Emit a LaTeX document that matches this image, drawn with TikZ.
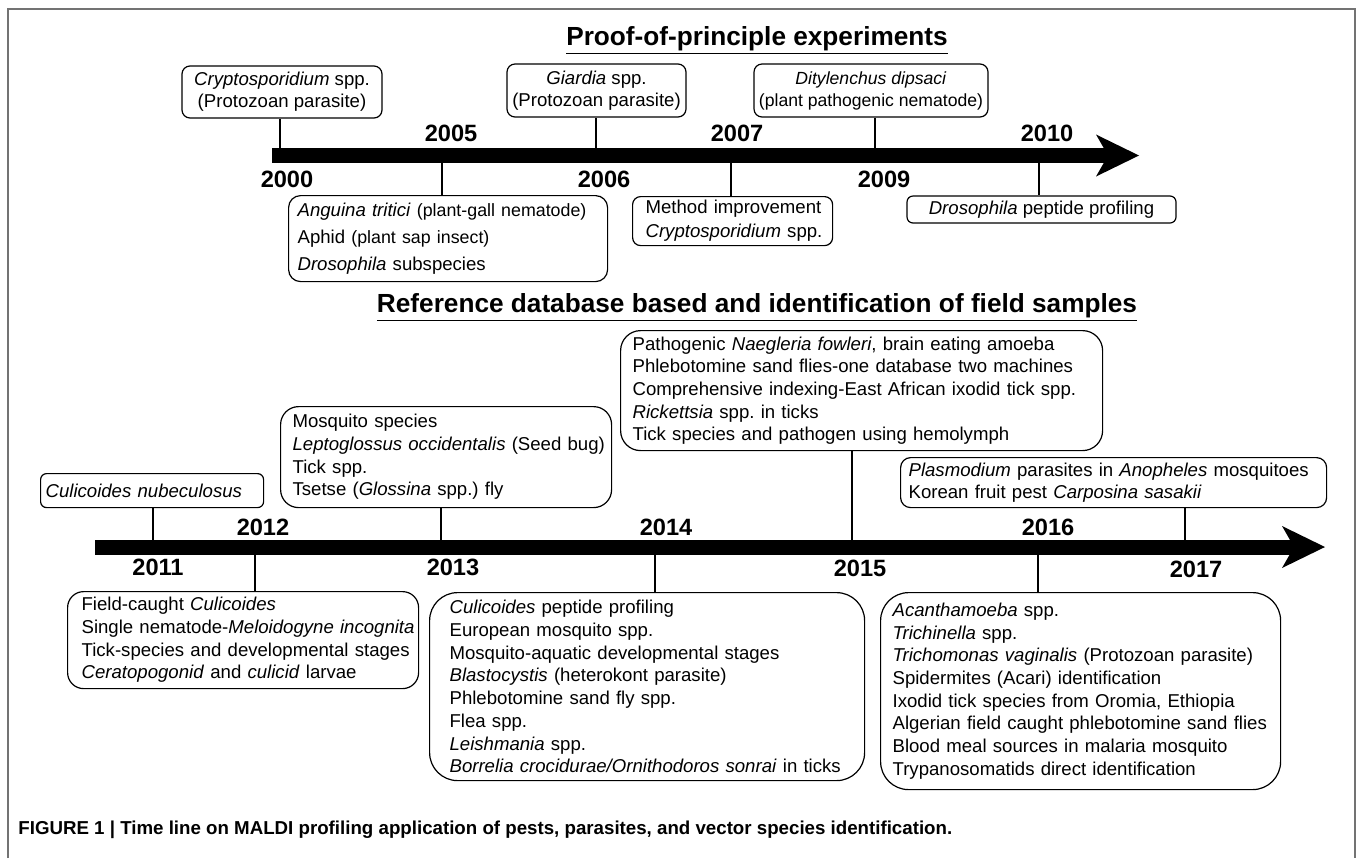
\documentclass[tikz,border=0pt]{standalone}
\usepackage{fontspec}
\setmainfont{Liberation Sans}
\usetikzlibrary{arrows.meta}

\hyphenpenalty=10000
\exhyphenpenalty=10000
\frenchspacing

\newcommand{\evfont}{\fontsize{9.3}{11.35}\selectfont}
\newcommand{\yrfont}{\fontsize{11.8}{14}\selectfont\bfseries}
\newcommand{\ttlfont}{\fontsize{13.1}{15}\selectfont\bfseries}
\newcommand{\capfont}{\fontsize{9.35}{11}\selectfont\bfseries}
\newcommand{\smpar}[1]{{\fontsize{8.9}{10}\selectfont #1}}

\begin{document}
\begin{tikzpicture}[x=0.5pt, y=-0.5pt]
  % Styles
  \tikzstyle{heading}=[font=\ttlfont, anchor=base, inner sep=0pt]
  \tikzstyle{yearlbl}=[font=\yrfont, inner sep=0pt]
  \tikzstyle{cbox}=[draw, line width=0.6pt, font=\evfont, align=center, inner sep=0pt]
  \tikzstyle{lbox}=[draw, line width=0.6pt, font=\evfont, anchor=north west, align=left, inner ysep=0pt]
  \tikzstyle{tickline}=[line width=1.3pt]
  \tikzstyle{timebar}=[line width=7.5pt, -{Stealth[length=21.5pt, width=21pt, inset=6pt, line width=0pt]}]

  \useasboundingbox (0,0) rectangle (1358,858);

  % Frame
  \draw[black!55, line width=1pt] (7.5,858) -- (7.5,8.5) -- (1355,8.5) -- (1355,858);

  % Headings
  \node[heading] (head1) at (757,45) {\underline{Proof-of-principle experiments}};
  \node[heading] (head2) at (757,312) {\underline{Reference database based and identification of field samples}};

  % Events 2000-2010
  \node[cbox, minimum width=100pt, minimum height=26pt, rounded corners=4pt, font=\fontsize{9.3}{11}\selectfont] (crypto) at (282,92)
    {\textit{Cryptosporidium} spp.\\(Protozoan parasite)};
  \node[cbox, minimum width=89.5pt, minimum height=26.5pt, rounded corners=4pt, font=\fontsize{9.3}{11}\selectfont] (giardia) at (596.5,90.5)
    {\textit{Giardia} spp.\\(Protozoan parasite)};
  \node[cbox, minimum width=117pt, minimum height=26.5pt, rounded corners=4pt, font=\fontsize{8.8}{11}\selectfont] (dipsaci) at (871,90.5)
    {\textit{Ditylenchus dipsaci}\\(plant pathogenic nematode)};
  \node[cbox, minimum width=134.5pt, minimum height=13.5pt, rounded corners=3pt] (droso) at (1041.5,209.5)
    {\textit{Drosophila} peptide profiling};
  \node[lbox, text width=150.5pt, inner xsep=4.5pt, minimum height=43pt, rounded corners=6pt, font=\fontsize{9.3}{13.5}\selectfont] (anguina) at (288,195)
    {\textit{Anguina tritici} \smpar{(plant-gall nematode)}\\Aphid \smpar{(plant sap insect)}\\\textit{Drosophila} subspecies};
  \node[lbox, text width=87pt, inner xsep=6.5pt, minimum height=24.5pt, rounded corners=4pt, font=\fontsize{9.3}{12}\selectfont] (method) at (632,196)
    {Method~improvement\\\textit{Cryptosporidium}~spp.};

  % Events 2011-2017
  \node[lbox, text width=106.5pt, inner xsep=2.5pt, minimum height=17pt, rounded corners=3pt] (nubec) at (40,473)
    {\textit{Culicoides nubeculosus}};
  \node[lbox, text width=153.5pt, inner xsep=6pt, minimum height=50.5pt, rounded corners=9pt] (mosq) at (280,406)
    {Mosquito species\\\textit{Leptoglossus~occidentalis}~(Seed~bug)\\Tick spp.\\Tsetse (\textit{Glossina} spp.) fly};
  \node[lbox, text width=229pt, inner xsep=6pt, minimum height=60pt, rounded corners=10pt] (naeg) at (620,330)
    {Pathogenic \textit{Naegleria fowleri}, brain eating amoeba\\Phlebotomine sand flies-one database two machines\\Comprehensive indexing-East African ixodid tick spp.\\\textit{Rickettsia} spp. in ticks\\Tick species and pathogen using hemolymph};
  \node[lbox, text width=205pt, inner xsep=4pt, minimum height=25pt, rounded corners=5pt] (plasm) at (900,457)
    {\textit{Plasmodium} parasites in \textit{Anopheles} mosquitoes\\Korean fruit pest \textit{Carposina sasakii}};
  \node[lbox, text width=161.5pt, inner xsep=7pt, minimum height=48.5pt, rounded corners=8pt] (field) at (67,591)
    {Field-caught \textit{Culicoides}\\Single~nematode-\textit{Meloidogyne~incognita}\\Tick-species~and~developmental~stages\\\textit{Ceratopogonid} and \textit{culicid} larvae};
  \node[lbox, text width=197.5pt, inner xsep=10pt, minimum height=94pt, rounded corners=14pt] (pept) at (429,592)
    {\textit{Culicoides} peptide profiling\\European mosquito spp.\\Mosquito-aquatic developmental stages\\\textit{Blastocystis} (heterokont parasite)\\Phlebotomine sand fly spp.\\Flea spp.\\\textit{Leishmania} spp.\\\textit{Borrelia~crocidurae/Ornithodoros~sonrai}~in~ticks};
  \node[lbox, text width=188pt, inner xsep=6pt, minimum height=98.5pt, rounded corners=14pt] (acanth) at (880,592)
    {\textit{Acanthamoeba} spp.\\\textit{Trichinella} spp.\\\textit{Trichomonas vaginalis} (Protozoan parasite)\\Spidermites (Acari) identification\\Ixodid tick species from Oromia, Ethiopia\\Algerian~field~caught~phlebotomine~sand~flies\\Blood meal sources in malaria mosquito\\Trypanosomatids direct identification};

  % Time line points
  \coordinate (s1) at (272,155.5);
  \coordinate (e1) at (1139,155.5);
  \coordinate (tcrypto) at (280,155.5);
  \coordinate (tgiardia) at (596,155.5);
  \coordinate (tdipsaci) at (875,155.5);
  \coordinate (tanguina) at (442,155.5);
  \coordinate (tmethod) at (731,155.5);
  \coordinate (tdroso) at (1039,155.5);
  \coordinate (s2) at (95,547);
  \coordinate (e2) at (1325,547);
  \coordinate (tnubec) at (153,547);
  \coordinate (tmosq) at (441,547);
  \coordinate (tnaeg) at (852,547);
  \coordinate (tplasm) at (1185,547);
  \coordinate (tfield) at (255,547);
  \coordinate (tpept) at (655,547);
  \coordinate (tacanth) at (1038,547);

  % Ticks
  \draw[tickline] (tcrypto) -- (tcrypto |- crypto.south);
  \draw[tickline] (tgiardia) -- (tgiardia |- giardia.south);
  \draw[tickline] (tdipsaci) -- (tdipsaci |- dipsaci.south);
  \draw[tickline] (tanguina) -- (tanguina |- anguina.north);
  \draw[tickline] (tmethod) -- (tmethod |- method.north);
  \draw[tickline] (tdroso) -- (tdroso |- droso.north);
  \draw[tickline] (tnubec) -- (tnubec |- nubec.south);
  \draw[tickline] (tmosq) -- (tmosq |- mosq.south);
  \draw[tickline] (tnaeg) -- (tnaeg |- naeg.south);
  \draw[tickline] (tplasm) -- (tplasm |- plasm.south);
  \draw[tickline] (tfield) -- (tfield |- field.north);
  \draw[tickline] (tpept) -- (tpept |- pept.north);
  \draw[tickline] (tacanth) -- (tacanth |- acanth.north);

  % Time lines
  \draw[timebar] (s1) -- (e1);
  \draw[timebar] (s2) -- (e2);

  % Years
  \node[yearlbl] (y2000) at (287,179) {2000};
  \node[yearlbl] (y2005) at (451,133) {2005};
  \node[yearlbl] (y2006) at (604,179) {2006};
  \node[yearlbl] (y2007) at (737,133) {2007};
  \node[yearlbl] (y2009) at (884,179) {2009};
  \node[yearlbl] (y2010) at (1047,133) {2010};
  \node[yearlbl] (y2011) at (158,567) {2011};
  \node[yearlbl] (y2012) at (263,527) {2012};
  \node[yearlbl] (y2013) at (453,567) {2013};
  \node[yearlbl] (y2014) at (666,527) {2014};
  \node[yearlbl] (y2015) at (860,568) {2015};
  \node[yearlbl] (y2016) at (1048,527) {2016};
  \node[yearlbl] (y2017) at (1196,569) {2017};

  % Caption
  \node[font=\capfont, anchor=west, inner sep=0pt] (caption) at (18,830)
    {FIGURE 1 | Time line on MALDI profiling application of pests, parasites, and vector species identification.};
\end{tikzpicture}
\end{document}
